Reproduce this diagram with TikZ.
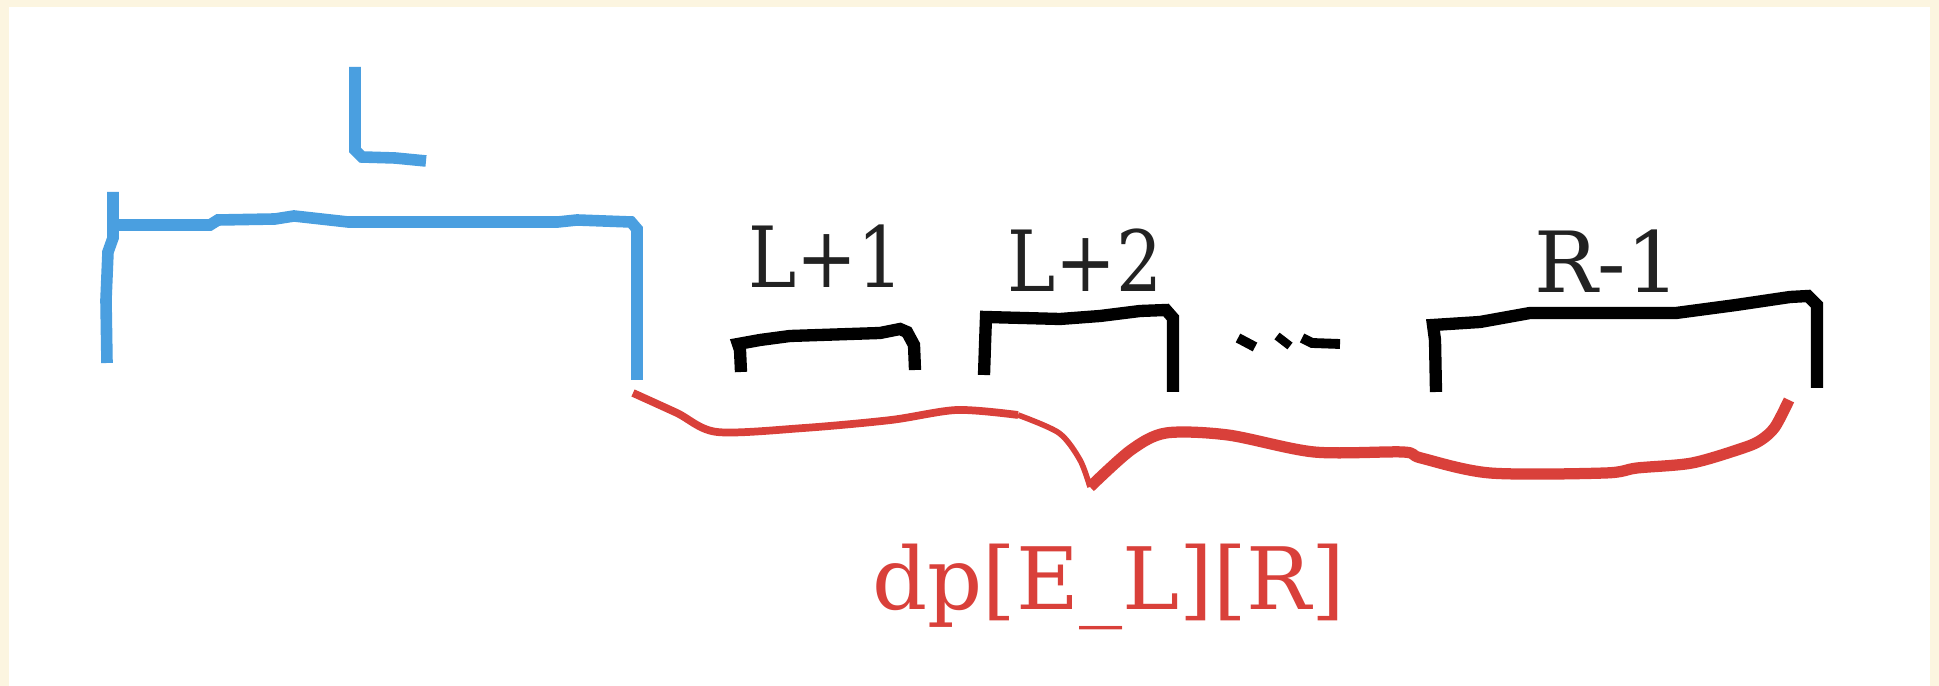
\documentclass[tikz,border=0pt]{standalone}
\usepackage{fontspec}
\setmainfont{DejaVu Serif}
\definecolor{cream}{HTML}{FCF5E0}
\definecolor{penblue}{HTML}{4A9FE0}
\definecolor{penred}{HTML}{D9403A}
\definecolor{inkgray}{HTML}{222222}
\tikzset{
  bluepen/.style={draw=penblue, line width=3.3pt, line join=miter, line cap=butt},
  blackpen/.style={draw=black, line width=3.5pt, line join=miter, line cap=butt},
  redpen/.style={draw=penred, line width=#1, line join=round, line cap=butt},
  redpen/.default=2.4pt,
  lbl/.style={anchor=base, inner sep=0pt, text=inkgray, font=\fontsize{24}{28}\selectfont},
  redlbl/.style={anchor=base, inner sep=0pt, text=penred, font=\fontsize{24.5}{28}\selectfont}
}
\begin{document}
\begin{tikzpicture}[x=0.01cm, y=-0.01cm]
\useasboundingbox (0,0) rectangle (1939,686);
\fill[cream] (0,0) rectangle (1939,686);
\fill[white] (9,7) rectangle (1930,686);

% handwritten blue L
\draw[bluepen] (355,67) -- (355,150) -- (362,157) -- (395,158) -- (426,161);
% blue bracket
\draw[bluepen] (113,192) -- (113,238) -- (108,252) -- (106,300) -- (107,363);
\draw[bluepen] (113,225) -- (210,225) -- (218,220) -- (275,219) -- (294,216)
  -- (348,222) -- (558,222) -- (577,220) -- (631,222) -- (637,229) -- (637,380);

% black brackets
\draw[blackpen] (741,372) -- (740,350) -- (738,344) -- (760,340) -- (790,336)
  -- (850,334) -- (880,333) -- (900,329) -- (907,332) -- (914,345) -- (915,370);
\draw[blackpen] (984,375) -- (985,345) -- (986,317) -- (1060,319) -- (1100,316)
  -- (1140,311) -- (1166,310) -- (1173,318) -- (1173,392);
\draw[blackpen] (1436,392) -- (1435,340) -- (1433,325) -- (1480,322) -- (1530,313)
  -- (1676,313) -- (1736,305) -- (1790,297) -- (1808,296) -- (1817,305) -- (1817,388);
% dots
\draw[blackpen, line width=2.8pt] (1238,338) -- (1255,347);
\draw[blackpen, line width=2.4pt] (1277,336) -- (1290,346);
\draw[blackpen, line width=2.8pt] (1302,338) -- (1312,343) -- (1340,344);

% red brace
\draw[redpen=2.2pt] plot[smooth, tension=0.5] coordinates {(633,393) (677,413) (717,432) (804,428) (891,420) (957,410) (1018,415)};
\draw[redpen=1.6pt] plot[smooth, tension=0.5] coordinates {(1018,415) (1059,433) (1080,460) (1090,487)};
\draw[redpen=3.2pt] plot[smooth, tension=0.5] coordinates {(1090,487) (1131,450) (1166,433) (1228,435) (1314,452) (1403,452) (1421,458) (1490,473) (1605,473) (1637,468) (1692,463) (1743,448) (1761,440) (1775,427) (1789,400)};

% labels
\node[lbl] (tL1) at (826,288) {\scalebox{0.86}[1]{L+1}};
\node[lbl] (tL2) at (1085,292) {\scalebox{0.86}[1]{L+2}};
\node[lbl] (tR1) at (1607,293) {R-1};
\node[redlbl] (tdp) at (1109,610) {dp[E\_L][R]};
\end{tikzpicture}
\end{document}
